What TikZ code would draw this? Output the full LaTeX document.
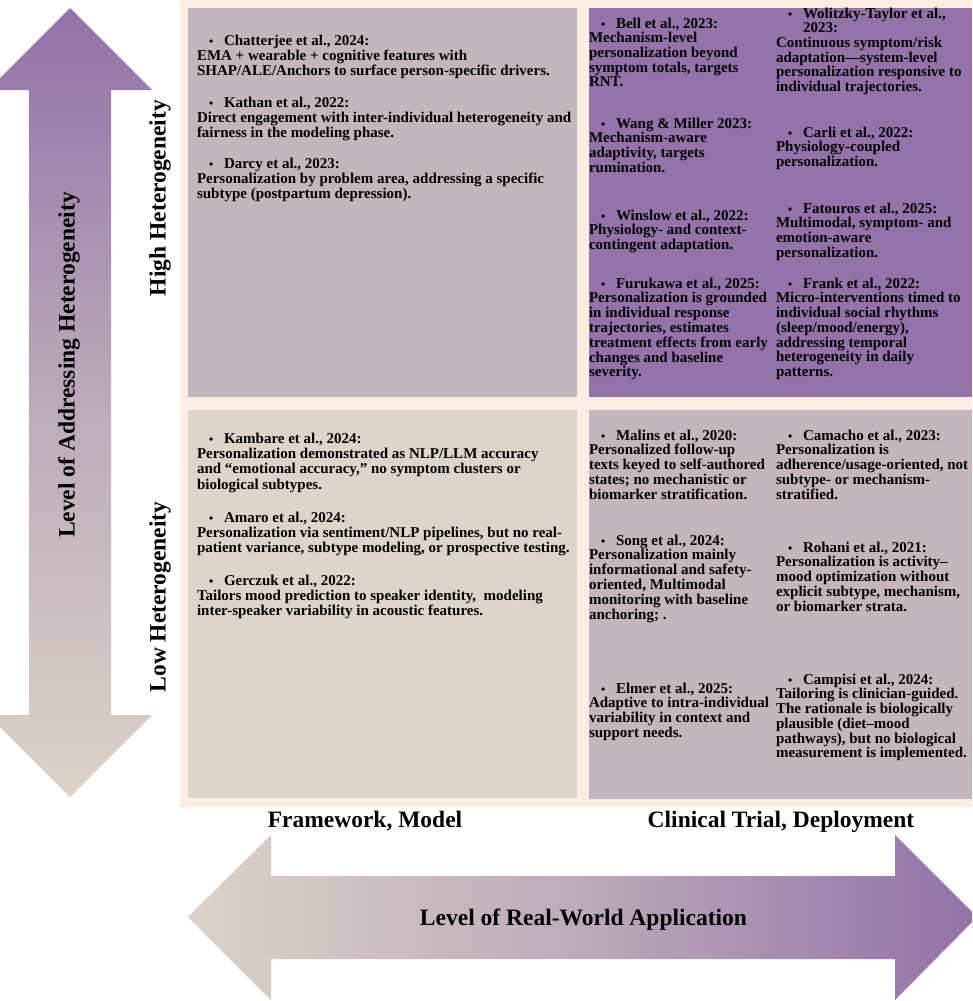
\documentclass[tikz,border=0pt]{standalone}
\usepackage{fontspec}
\setmainfont{Liberation Serif}
\definecolor{cream}{HTML}{FBEDE1}
\definecolor{mauve}{HTML}{C4B6BD}
\definecolor{purp}{HTML}{9373AA}
\definecolor{beige}{HTML}{DDD4CA}
\definecolor{arrpurp}{HTML}{9272A8}
\definecolor{arrbeige}{HTML}{DDD3C8}
\definecolor{arrmid}{HTML}{BCAAB9}
\newcommand\bhead[1]{\makebox[27pt][l]{\hspace{12pt}{\fontsize{12}{12}\selectfont •}}#1}
\newcommand\qi[1]{\begin{tabular}[t]{@{}l@{}}#1\end{tabular}}
\tikzset{
  itemR/.style={anchor=base west, inner sep=0pt, outer sep=0pt, font=\fontsize{15}{14.6}\selectfont\bfseries},
  itemL/.style={anchor=base west, inner sep=0pt, outer sep=0pt, font=\fontsize{15}{15.4}\selectfont\bfseries},
  axislabel/.style={inner sep=0pt, font=\fontsize{23.5}{24}\selectfont\bfseries},
  quad/.style={draw=none},
}
\begin{document}
\begin{tikzpicture}[x=1pt,y=-1pt]
\useasboundingbox (0,0) rectangle (972,1001);
\clip (0,0) rectangle (972,1001);
\fill[white] (0,0) rectangle (972,1001);
% background panel and quadrants
\fill[cream] (180,0) rectangle (972,807);
\fill[mauve] (188,8) rectangle (577,397);
\fill[purp] (589,8) rectangle (972,397);
\fill[beige] (188,410) rectangle (577,798);
\fill[mauve] (589,410) rectangle (972,799);
% vertical double arrow
\shade[top color=arrpurp, bottom color=arrbeige, middle color=arrmid]
  (70,8) -- (152,90) -- (111,90) -- (111,715) -- (152,715) -- (70,797)
  -- (-12,715) -- (29,715) -- (29,90) -- (-12,90) -- cycle;
% horizontal double arrow
\shade[left color=arrbeige, right color=arrpurp, middle color=arrmid]
  (188,917) -- (271,835) -- (271,876) -- (895,876) -- (895,835) -- (977,917)
  -- (895,1000) -- (895,959) -- (271,959) -- (271,1000) -- cycle;
% axis labels
\node[axislabel, rotate=90] (lvlhet) at (69,365) {Level of Addressing Heterogeneity};
\node[axislabel, rotate=90] (highhet) at (160,198) {High Heterogeneity};
\node[axislabel, rotate=90] (lowhet) at (160,597) {Low Heterogeneity};
\node[axislabel, anchor=base] (fwm) at (365,827) {Framework, Model};
\node[axislabel, anchor=base] (ctd) at (781,827) {Clinical Trial, Deployment};
\node[axislabel, anchor=base] (lrwa) at (583.5,925) {Level of Real-World Application};
% top-left quadrant
\node[itemL] (chat) at (197,45) {\qi{\bhead{Chatterjee et al., 2024:}\\
EMA + wearable + cognitive features with\\
SHAP/ALE/Anchors to surface person-specific drivers.}};
\node[itemL] (kath) at (197,107) {\qi{\bhead{Kathan et al., 2022:}\\
Direct engagement with inter-individual heterogeneity and\\
fairness in the modeling phase.}};
\node[itemL] (darc) at (197,168) {\qi{\bhead{Darcy et al., 2023:}\\
Personalization by problem area, addressing a specific\\
subtype (postpartum depression).}};
% bottom-left quadrant
\node[itemL] (kamb) at (197,443) {\qi{\bhead{Kambare et al., 2024:}\\
Personalization demonstrated as NLP/LLM accuracy\\
and “emotional accuracy,” no symptom clusters or\\
biological subtypes.}};
\node[itemL] (amar) at (197,522) {\qi{\bhead{Amaro et al., 2024:}\\
Personalization via sentiment/NLP pipelines, but no real-\\
patient variance, subtype modeling, or prospective testing.}};
\node[itemL] (gerc) at (197,585) {\qi{\bhead{Gerczuk et al., 2022:}\\
Tailors mood prediction to speaker identity,\ \ modeling\\
inter-speaker variability in acoustic features.}};
% top-right quadrant, left column
\node[itemR] (bell) at (589,28) {\qi{\bhead{Bell et al., 2023:}\\
Mechanism-level\\
personalization beyond\\
symptom totals, targets\\
RNT.}};
\node[itemR] (wang) at (589,128) {\qi{\bhead{Wang \& Miller 2023:}\\
Mechanism-aware\\
adaptivity, targets\\
rumination.}};
\node[itemR] (wins) at (589,220) {\qi{\bhead{Winslow et al., 2022:}\\
Physiology- and context-\\
contingent adaptation.}};
\node[itemR] (furu) at (589,288) {\qi{\bhead{Furukawa et al., 2025:}\\
Personalization is grounded\\
in individual response\\
trajectories, estimates\\
treatment effects from early\\
changes and baseline\\
severity.}};
% top-right quadrant, right column
\node[itemR] (woli) at (776,18) {\qi{\bhead{Wolitzky-Taylor et al.,}\\
\hspace*{27pt}2023:\\
Continuous symptom/risk\\
adaptation—system-level\\
personalization responsive to\\
individual trajectories.}};
\node[itemR] (carl) at (776,137) {\qi{\bhead{Carli et al., 2022:}\\
Physiology-coupled\\
personalization.}};
\node[itemR] (fato) at (776,213) {\qi{\bhead{Fatouros et al., 2025:}\\
Multimodal, symptom- and\\
emotion-aware\\
personalization.}};
\node[itemR] (fran) at (776,288) {\qi{\bhead{Frank et al., 2022:}\\
Micro-interventions timed to\\
individual social rhythms\\
(sleep/mood/energy),\\
addressing temporal\\
heterogeneity in daily\\
patterns.}};
% bottom-right quadrant, left column
\node[itemR] (mali) at (589,440) {\qi{\bhead{Malins et al., 2020:}\\
Personalized follow-up\\
texts keyed to self-authored\\
states; no mechanistic or\\
biomarker stratification.}};
\node[itemR] (song) at (589,545) {\qi{\bhead{Song et al., 2024:}\\
Personalization mainly\\
informational and safety-\\
oriented, Multimodal\\
monitoring with baseline\\
anchoring; .}};
\node[itemR] (elme) at (589,693) {\qi{\bhead{Elmer et al., 2025:}\\
Adaptive to intra-individual\\
variability in context and\\
support needs.}};
% bottom-right quadrant, right column
\node[itemR] (cama) at (776,440) {\qi{\bhead{Camacho et al., 2023:}\\
Personalization is\\
adherence/usage-oriented, not\\
subtype- or mechanism-\\
stratified.}};
\node[itemR] (roha) at (776,552) {\qi{\bhead{Rohani et al., 2021:}\\
Personalization is activity–\\
mood optimization without\\
explicit subtype, mechanism,\\
or biomarker strata.}};
\node[itemR] (camp) at (776,684) {\qi{\bhead{Campisi et al., 2024:}\\
Tailoring is clinician-guided.\\
The rationale is biologically\\
plausible (diet–mood\\
pathways), but no biological\\
measurement is implemented.}};
\end{tikzpicture}
\end{document}
